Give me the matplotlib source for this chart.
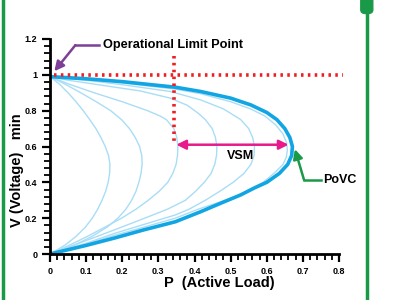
import matplotlib
matplotlib.use('Agg')
import matplotlib.pyplot as plt
from matplotlib.ticker import MultipleLocator, FuncFormatter
from matplotlib.patches import FancyBboxPatch
from matplotlib.lines import Line2D

plt.rcParams['font.family'] = ['Liberation Sans', 'DejaVu Sans']

# PV curves (from V=0.99 down the upper branch, round the nose, back to 0)
v_c1 = [0.99, 0.95, 0.9, 0.85, 0.8, 0.75, 0.7, 0.65, 0.6, 0.55, 0.5, 0.45, 0.4, 0.35, 0.3, 0.25, 0.2, 0.15, 0.1, 0.05, 0]
p_c1 = [0, 0.025, 0.05, 0.072, 0.092, 0.11, 0.127, 0.141, 0.153, 0.162, 0.166, 0.165, 0.161, 0.154, 0.144, 0.132, 0.117, 0.098, 0.073, 0.042, 0]

v_c2 = [0.99, 0.95, 0.9, 0.85, 0.8, 0.75, 0.7, 0.65, 0.6, 0.55, 0.5, 0.45, 0.4, 0.35, 0.3, 0.25, 0.2, 0.15, 0.1, 0.05, 0]
p_c2 = [0, 0.04, 0.085, 0.128, 0.168, 0.198, 0.22, 0.236, 0.248, 0.254, 0.255, 0.252, 0.246, 0.238, 0.226, 0.21, 0.188, 0.158, 0.118, 0.068, 0]

v_c3 = [0.99, 0.95, 0.9, 0.85, 0.8, 0.77, 0.75, 0.7, 0.65, 0.6, 0.55, 0.5, 0.45, 0.4, 0.35, 0.3, 0.25, 0.2, 0.15, 0.1, 0.05, 0]
p_c3 = [0, 0.05, 0.122, 0.2, 0.27, 0.305, 0.322, 0.343, 0.351, 0.354, 0.353, 0.349, 0.34, 0.326, 0.302, 0.272, 0.238, 0.198, 0.152, 0.105, 0.055, 0]

v_c4 = [0.99, 0.97, 0.94, 0.91, 0.87, 0.83, 0.786, 0.75, 0.7, 0.65, 0.6, 0.55, 0.5, 0.45, 0.4, 0.35, 0.3, 0.25, 0.2, 0.15, 0.1, 0.05, 0]
p_c4 = [0, 0.05, 0.15, 0.25, 0.333, 0.38, 0.41, 0.43, 0.449, 0.458, 0.462, 0.461, 0.456, 0.446, 0.427, 0.403, 0.375, 0.325, 0.262, 0.198, 0.133, 0.067, 0]

v_c5 = [0.99, 0.97, 0.945, 0.907, 0.86, 0.81, 0.75, 0.7, 0.65, 0.6, 0.55, 0.5, 0.45, 0.4, 0.35, 0.3, 0.25, 0.218, 0.165, 0.116, 0.06, 0]
p_c5 = [0, 0.1, 0.2, 0.333, 0.417, 0.48, 0.528, 0.55, 0.561, 0.566, 0.565, 0.556, 0.537, 0.507, 0.47, 0.43, 0.385, 0.347, 0.26, 0.18, 0.1, 0]

v_c6 = [0.99, 0.975, 0.955, 0.92, 0.895, 0.85, 0.81, 0.77, 0.72, 0.67, 0.62, 0.58, 0.54, 0.5, 0.45, 0.4, 0.35, 0.33, 0.29, 0.25, 0.2, 0.15, 0.105, 0.056, 0]
p_c6 = [0, 0.1, 0.2, 0.347, 0.417, 0.5, 0.555, 0.595, 0.625, 0.645, 0.655, 0.657, 0.654, 0.645, 0.62, 0.59, 0.548, 0.528, 0.47, 0.41, 0.347, 0.26, 0.18, 0.1, 0]

# outer (thick) curve
v_main = [0.99, 0.978, 0.962, 0.945, 0.931, 0.907, 0.87, 0.832, 0.79, 0.75, 0.7, 0.65, 0.6, 0.55, 0.5,
          0.45, 0.4, 0.37, 0.33, 0.283, 0.236, 0.18, 0.135, 0.09, 0.048, 0]
p_main = [0, 0.1, 0.2, 0.28, 0.347, 0.417, 0.5, 0.556, 0.6, 0.628, 0.65, 0.664, 0.671, 0.669, 0.658,
          0.635, 0.6, 0.567, 0.528, 0.472, 0.417, 0.347, 0.26, 0.18, 0.1, 0]

thin_curves = [(p_c1, v_c1), (p_c2, v_c2), (p_c3, v_c3), (p_c4, v_c4), (p_c5, v_c5), (p_c6, v_c6)]

x_ticks = [0, 0.1, 0.2, 0.3, 0.4, 0.5, 0.6, 0.7, 0.8]
y_ticks = [0, 0.2, 0.4, 0.6, 0.8, 1.0, 1.2]

limit_v = 1.0
vsm_p = [0.342, 0.668]
vsm_v = 0.61

fig = plt.figure(figsize=(4, 3), dpi=100)
ax = fig.add_axes([0.125, 0.1533, 0.7225, 0.7167])

for p, v in thin_curves:
    ax.plot(p, v, color='#a9ddf6', lw=1.0, solid_capstyle='round', solid_joinstyle='round')
ax.plot(p_main, v_main, color='#12a5e3', lw=2.6, solid_capstyle='round', solid_joinstyle='round')

# red dotted limits
ax.plot([0.012, 0.811], [limit_v, limit_v], color='#f01e23', lw=2.6, ls=(0, (0.7, 1.2)), clip_on=False)
ax.plot([vsm_p[0], vsm_p[0]], [1.106, 0.62], color='#f01e23', lw=2.6, ls=(0, (0.7, 1.2)), clip_on=False)

# VSM arrow
ax.annotate('', xy=(vsm_p[0], vsm_v), xytext=(vsm_p[1], vsm_v),
            arrowprops=dict(arrowstyle='<|-|>', color='#e8198b', lw=1.8, mutation_scale=14))
ax.text(0.528, 0.547, 'VSM', ha='center', va='center', fontsize=9, fontweight='bold')

# operational limit point
ax.text(0.147, 1.165, 'Operational Limit Point', ha='left', va='center', fontsize=9.2, fontweight='bold')
ax.plot([0.135, 0.07], [1.165, 1.165], color='#7d3f98', lw=1.8, clip_on=False)
ax.annotate('', xy=(0.012, 1.02), xytext=(0.07, 1.165),
            arrowprops=dict(arrowstyle='-|>', color='#7d3f98', lw=1.8, mutation_scale=14,
                            shrinkA=0, shrinkB=0), annotation_clip=False)

# PoVC
ax.text(0.757, 0.415, 'PoVC', ha='left', va='center', fontsize=9, fontweight='bold')
ax.plot([0.75, 0.703], [0.415, 0.415], color='#1a9a48', lw=1.8, clip_on=False)
ax.annotate('', xy=(0.678, 0.585), xytext=(0.703, 0.415),
            arrowprops=dict(arrowstyle='-|>', color='#1a9a48', lw=1.8, mutation_scale=14,
                            shrinkA=0, shrinkB=0), annotation_clip=False)

ax.set_xlim(0, 0.8)
ax.set_ylim(0, 1.2)
ax.set_xticks(x_ticks)
ax.set_yticks(y_ticks)
ax.xaxis.set_minor_locator(MultipleLocator(0.02))
ax.yaxis.set_minor_locator(MultipleLocator(0.04))
fmt = FuncFormatter(lambda val, pos: ('%g' % round(val, 2)))
ax.xaxis.set_major_formatter(fmt)
ax.yaxis.set_major_formatter(fmt)
ax.tick_params(which='major', length=6, width=1.6, labelsize=6.5, pad=3)
ax.tick_params(which='minor', length=4, width=1.3)
for lab in ax.get_xticklabels() + ax.get_yticklabels():
    lab.set_fontweight('bold')
for s in ['top', 'right']:
    ax.spines[s].set_visible(False)
for s in ['left', 'bottom']:
    ax.spines[s].set_linewidth(2)

ax.set_xlabel('P  (Active Load)', fontsize=10.5, fontweight='bold')
ax.set_ylabel('V (Voltage)   min', fontsize=10.5, fontweight='bold')
ax.xaxis.set_label_coords(0.585, -0.1)
ax.yaxis.set_label_coords(-0.09, 0.39)

# green decorative bars
fig.add_artist(Line2D([0.008, 0.008], [0, 1], transform=fig.transFigure, color='#1a9a48', lw=2.5))
fig.add_artist(Line2D([0.917, 0.917], [0, 0.955], transform=fig.transFigure, color='#1a9a48', lw=2.5))
fig.add_artist(FancyBboxPatch((0.902, 0.955), 0.03, 0.06, boxstyle='round,pad=0,rounding_size=0.012',
                              transform=fig.transFigure, color='#1a9a48'))

fig.savefig('out.png', dpi=100)
